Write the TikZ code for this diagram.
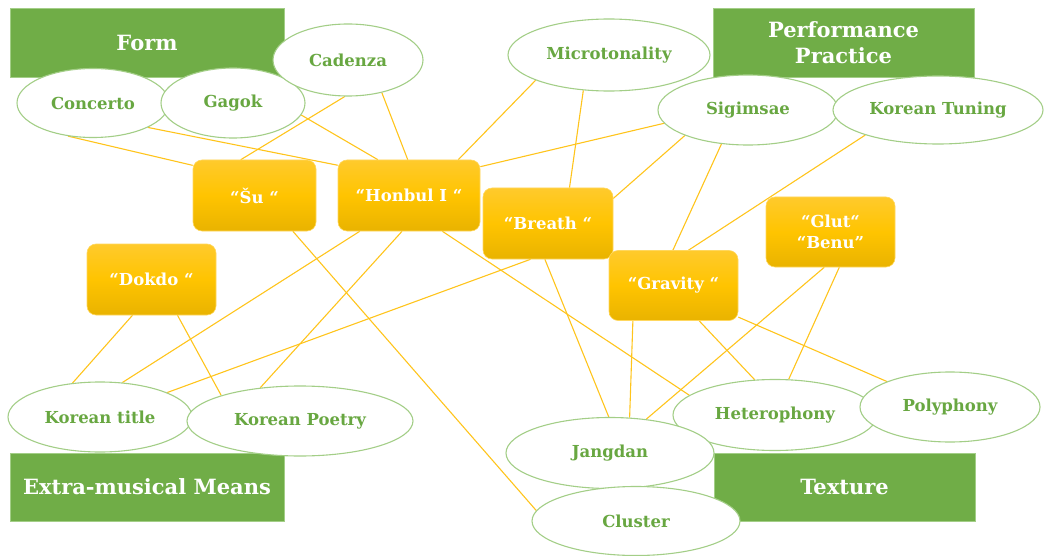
\documentclass[tikz,border=0pt]{standalone}
\usepackage{fontspec}
\setmainfont{DejaVu Serif}
\usetikzlibrary{shapes.geometric,backgrounds}
\definecolor{catgreen}{HTML}{70AD47}
\definecolor{txtgreen}{HTML}{68A741}
\definecolor{ellline}{HTML}{A3CE87}
\definecolor{linkcol}{HTML}{FFC41C}
\definecolor{yTop}{HTML}{FFCA2C}
\definecolor{yMid}{HTML}{FFC400}
\definecolor{yBot}{HTML}{E9B300}
\definecolor{yEdge}{HTML}{FFD75E}
\begin{document}
\begin{tikzpicture}[x=1pt,y=-1pt,
  cat/.style={rectangle, fill=catgreen, draw=ellline, line width=0.5pt, text=white,
    font=\bfseries\fontsize{21}{26}\selectfont, inner sep=0pt, align=center},
  ell/.style={ellipse, fill=white, draw=ellline, line width=1.1pt, text=txtgreen,
    font=\bfseries\fontsize{16.5}{19}\selectfont, inner sep=0pt},
  work/.style={rectangle, rounded corners=9pt, top color=yTop, bottom color=yBot,
    middle color=yMid, draw=yEdge, line width=0.6pt, text=white,
    font=\bfseries\fontsize{16.5}{21}\selectfont, inner sep=0pt, align=center},
  link/.style={draw=linkcol, line width=1.1pt}]
\useasboundingbox (0,0) rectangle (1046,556);
% category boxes
\node[cat, minimum width=274pt, minimum height=69pt] (form) at (147,42.5) {Form};
\node[cat, minimum width=261pt, minimum height=69pt] (perf) at (843.5,42.5) {Performance\\Practice};
\node[cat, minimum width=274pt, minimum height=68pt] (extra) at (147,487) {Extra-musical Means};
\node[cat, minimum width=261pt, minimum height=68pt] (texture) at (844.5,487) {Texture};
% ellipses
\node[ell, minimum width=152pt, minimum height=69pt] (concerto) at (93,103) {Concerto};
\node[ell, minimum width=144pt, minimum height=70pt] (gagok) at (233,103) {Gagok};
\node[ell, minimum width=150pt, minimum height=72pt] (cadenza) at (348,60) {Cadenza};
\node[ell, minimum width=202pt, minimum height=72pt] (micro) at (609,55) {Microtonality};
\node[ell, minimum width=180pt, minimum height=70pt] (sigimsae) at (748,110) {Sigimsae};
\node[ell, minimum width=210pt, minimum height=68pt] (tuning) at (938,110) {Korean Tuning};
\node[ell, minimum width=184pt, minimum height=70pt] (ktitle) at (100,417) {Korean title};
\node[ell, minimum width=226pt, minimum height=70pt] (kpoetry) at (300,421) {Korean Poetry};
\node[ell, minimum width=204pt, minimum height=71pt] (hetero) at (775,415) {Heterophony};
\node[ell, minimum width=180pt, minimum height=70pt] (poly) at (950,407) {Polyphony};
\node[ell, minimum width=208pt, minimum height=71pt] (jangdan) at (610,453) {Jangdan};
\node[ell, minimum width=208pt, minimum height=69pt] (cluster) at (636,521) {Cluster};
% works
\node[work, minimum width=123pt, minimum height=71pt] (su) at (254.5,195.5) {“Šu “};
\node[work, minimum width=142pt, minimum height=71pt] (honbul) at (409,195.5) {“Honbul I “};
\node[work, minimum width=130pt, minimum height=71pt] (breath) at (548,223.5) {“Breath “};
\node[work, minimum width=129pt, minimum height=71pt] (dokdo) at (151.5,279.5) {“Dokdo “};
\node[work, minimum width=129pt, minimum height=70pt] (gravity) at (673.5,285.5) {“Gravity “};
\node[work, minimum width=129pt, minimum height=70pt] (glut) at (830.5,232) {“Glut“\\“Benu”};
% connectors
\begin{scope}[on background layer]
\draw[link] (concerto.233) -- (su.154);
\draw[link] (concerto.336) -- (honbul.157);
\draw[link] (gagok.350) -- (honbul.131);
\draw[link] (cadenza.265) -- (su.111);
\draw[link] (cadenza.316) -- (honbul.92);
\draw[link] (micro.199) -- (honbul.36);
\draw[link] (micro.234) -- (breath.59);
\draw[link] (sigimsae.189) -- (honbul.22);
\draw[link] (sigimsae.202) -- (breath.21);
\draw[link] (sigimsae.232) -- (gravity.91);
\draw[link] (tuning.199) -- (gravity.67);
\draw[link] (glut.260) -- (jangdan.43);
\draw[link] (glut.284) -- (hetero.69);
\draw[link] (gravity.306) -- (hetero.120);
\draw[link] (gravity.334) -- (poly.158);
\draw[link] (gravity.221) -- (jangdan.61);
\draw[link] (breath.265) -- (jangdan.92);
\draw[link] (honbul.313) -- (hetero.167);
\draw[link] (breath.244) -- (ktitle.20);
\draw[link] (honbul.216) -- (ktitle.57);
\draw[link] (honbul.259) -- (kpoetry.140);
\draw[link] (su.317) -- (cluster.174);
\draw[link] (dokdo.242) -- (ktitle.129);
\draw[link] (dokdo.306) -- (kpoetry.162);
\end{scope}
\end{tikzpicture}
\end{document}
